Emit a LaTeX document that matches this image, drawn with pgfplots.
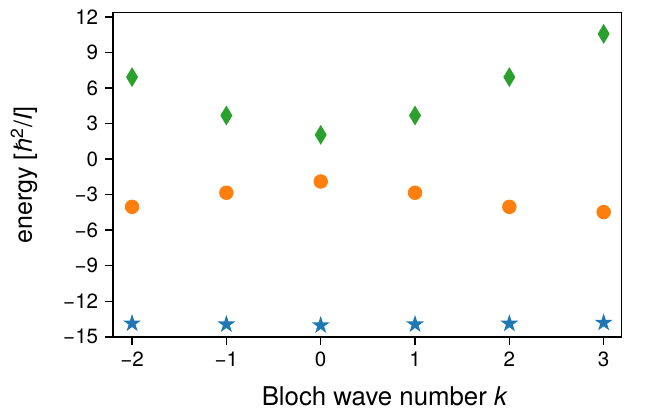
\documentclass[border=0pt]{standalone}
\usepackage{fontspec}
\setmainfont{TeX Gyre Heros}
\usepackage{pgfplots}
\pgfplotsset{compat=1.18}
\definecolor{tabblue}{HTML}{1F77B4}
\definecolor{taborange}{HTML}{FF7F0E}
\definecolor{tabgreen}{HTML}{2CA02C}
\pgfdeclareplotmark{fstar}{%
  \pgfpathmoveto{\pgfpointpolar{90}{\pgfplotmarksize}}%
  \pgfpathlineto{\pgfpointpolar{126}{0.382\pgfplotmarksize}}%
  \pgfpathlineto{\pgfpointpolar{162}{\pgfplotmarksize}}%
  \pgfpathlineto{\pgfpointpolar{198}{0.382\pgfplotmarksize}}%
  \pgfpathlineto{\pgfpointpolar{234}{\pgfplotmarksize}}%
  \pgfpathlineto{\pgfpointpolar{270}{0.382\pgfplotmarksize}}%
  \pgfpathlineto{\pgfpointpolar{306}{\pgfplotmarksize}}%
  \pgfpathlineto{\pgfpointpolar{342}{0.382\pgfplotmarksize}}%
  \pgfpathlineto{\pgfpointpolar{18}{\pgfplotmarksize}}%
  \pgfpathlineto{\pgfpointpolar{54}{0.382\pgfplotmarksize}}%
  \pgfpathclose\pgfusepathqfill}
\pgfdeclareplotmark{thindiamond}{%
  \pgfpathmoveto{\pgfqpoint{0pt}{\pgfplotmarksize}}%
  \pgfpathlineto{\pgfqpoint{0.6\pgfplotmarksize}{0pt}}%
  \pgfpathlineto{\pgfqpoint{0pt}{-\pgfplotmarksize}}%
  \pgfpathlineto{\pgfqpoint{-0.6\pgfplotmarksize}{0pt}}%
  \pgfpathclose\pgfusepathqfill}
\begin{document}
\begin{tikzpicture}
\begin{axis}[
  scale only axis,
  width=254.2bp, height=162bp,
  xmin=-2.2, xmax=3.19,
  ymin=-15, ymax=12.35,
  xtick={-2,-1,0,1,2,3},
  xticklabels={−2,−1,0,1,2,3},
  ytick={-15,-12,-9,-6,-3,0,3,6,9,12},
  yticklabels={−15,−12,−9,−6,−3,0,3,6,9,12},
  tick pos=left,
  tick align=outside,
  major tick length=4bp,
  axis line style={line width=0.7bp},
  every tick/.style={line width=0.7bp, black},
  ticklabel style={font=\fontsize{10.3bp}{12bp}\selectfont},
  xlabel={Bloch wave number \textit{k}},
  ylabel={energy [\textit{ħ}\textsuperscript{2}/\textit{I}]},
  every axis x label/.style={at={(axis description cs:0.5,0)}, anchor=base, yshift=-34.2bp, xshift=8.7bp, inner sep=0pt, font=\fontsize{12.9bp}{15bp}\selectfont},
  every axis y label/.style={at={([xshift=-37.8bp]axis description cs:0,0.5)}, rotate=90, anchor=south, inner sep=0pt, font=\fontsize{12.5bp}{15bp}\selectfont},
  clip=false,
]
\addplot[only marks, mark=fstar, mark size=4.7bp, color=tabblue] coordinates {
  (-2,-13.87) (-1,-13.95) (0,-14.03) (1,-13.95) (2,-13.89) (3,-13.81)
};
\addplot[only marks, mark=*, mark size=3.4bp, color=taborange, mark options={draw=none, fill=taborange}] coordinates {
  (-2,-4.03) (-1,-2.84) (0,-1.89) (1,-2.84) (2,-4.03) (3,-4.47)
};
\addplot[only marks, mark=thindiamond, mark size=5bp, color=tabgreen] coordinates {
  (-2,6.92) (-1,3.68) (0,2.05) (1,3.68) (2,6.92) (3,10.57)
};
\end{axis}
\pgfresetboundingbox
\useasboundingbox ([shift={(-56.6bp,-37.2bp)}]current axis.south west) rectangle ([shift={(16.2bp,6.4bp)}]current axis.north east);
\end{tikzpicture}
\end{document}
